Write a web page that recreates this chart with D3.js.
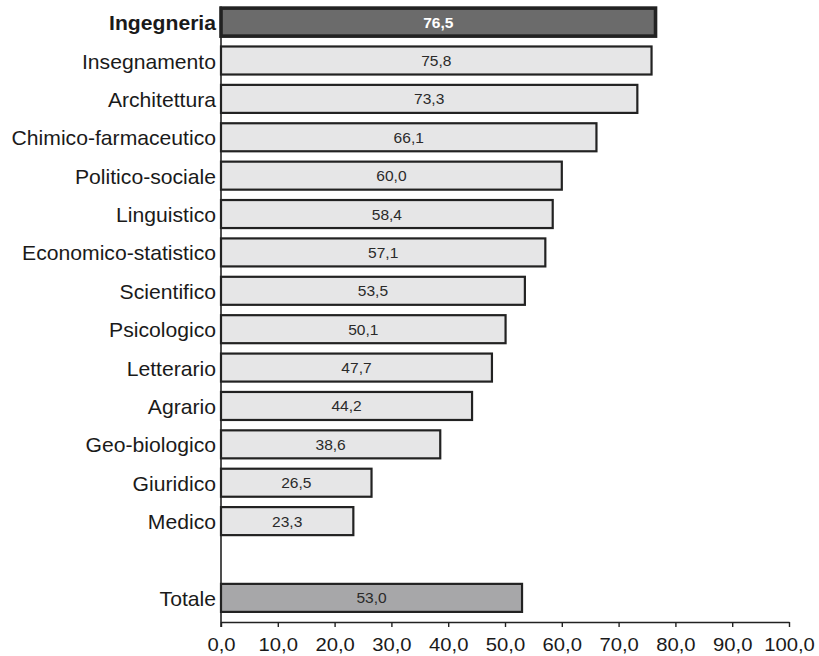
<!DOCTYPE html>
<html>
<head>
<meta charset="utf-8">
<script src="https://cdn.jsdelivr.net/npm/d3@7"></script>
<style>
  html, body { margin: 0; padding: 0; background: #fff; }
  svg { display: block; font-family: "Liberation Sans", Arial, Helvetica, sans-serif; }
</style>
</head>
<body>
<svg id="chart" width="819" height="656"></svg>
<script>
// Share of graduates by discipline group (%)
const categories = [
  "Ingegneria", "Insegnamento", "Architettura", "Chimico-farmaceutico",
  "Politico-sociale", "Linguistico", "Economico-statistico", "Scientifico",
  "Psicologico", "Letterario", "Agrario", "Geo-biologico", "Giuridico", "Medico"
];
const values = [76.5, 75.8, 73.3, 66.1, 60.0, 58.4, 57.1, 53.5, 50.1, 47.7, 44.2, 38.6, 26.5, 23.3];
const highlighted = ["Ingegneria"];
const totalLabel = "Totale";
const totalValue = 53.0;
const xTicks = [0, 10, 20, 30, 40, 50, 60, 70, 80, 90, 100];

const svg = d3.select("#chart");
const itLocale = d3.formatLocale({ decimal: ",", thousands: ".", grouping: [3], currency: ["", " €"] });
const fmt = itLocale.format(".1f");

const x0 = 221, x1 = 789;
const axisY = 622;
const spacer = " ";
const rows = categories.map((c, i) => ({ name: c, value: values[i], kind: highlighted.includes(c) ? "hi" : "base" }));
rows.push({ name: totalLabel, value: totalValue, kind: "total" });

const x = d3.scaleLinear().domain([0, 100]).range([x0, x1]);
const y = d3.scaleBand()
  .domain([...categories, spacer, totalLabel])
  .range([3.5, 616.5])
  .paddingInner(0.27)
  .paddingOuter(0.12);

const fills = { hi: "#6b6b6b", base: "#e6e6e7", total: "#a7a7a9" };
const strokeW = { hi: 3.6, base: 2.2, total: 2.2 };

// Vertical category axis line
svg.append("line")
  .attr("x1", x0).attr("x2", x0)
  .attr("y1", y.range()[0] + 3).attr("y2", axisY + 5)
  .attr("stroke", "#222").attr("stroke-width", 1.6);

// Bars
const g = svg.append("g");
g.selectAll("rect").data(rows).join("rect")
  .attr("x", x(0))
  .attr("y", d => y(d.name))
  .attr("width", d => x(d.value) - x(0))
  .attr("height", y.bandwidth())
  .attr("fill", d => fills[d.kind])
  .attr("stroke", "#222")
  .attr("stroke-width", d => strokeW[d.kind]);

// Value labels inside the bars
g.selectAll("text.val").data(rows).join("text")
  .attr("class", "val")
  .attr("transform", d => `translate(${(x(0) + x(d.value)) / 2},${y(d.name) + y.bandwidth() / 2 + 5.5}) scale(1.08,1)`)
  .attr("text-anchor", "middle")
  .attr("font-size", 14.4)
  .attr("font-weight", d => d.kind === "hi" ? "bold" : "normal")
  .attr("fill", d => d.kind === "hi" ? "#fff" : "#2a2a2a")
  .text(d => fmt(d.value));

// Category labels
g.selectAll("text.cat").data(rows).join("text")
  .attr("class", "cat")
  .attr("transform", d => `translate(${x0 - 5},${y(d.name) + y.bandwidth() / 2 + 8}) scale(1.08,1)`)
  .attr("text-anchor", "end")
  .attr("font-size", 19.6)
  .attr("font-weight", d => d.kind === "hi" ? "bold" : "normal")
  .attr("fill", "#1a1a1a")
  .text(d => d.name);

// Value axis
const xAxis = d3.axisBottom(x).tickValues(xTicks).tickFormat(fmt).tickSize(5).tickSizeOuter(0);
const ax = svg.append("g").attr("transform", `translate(0,${axisY})`).call(xAxis);
ax.select(".domain").attr("stroke", "#222").attr("stroke-width", 1.6);
ax.selectAll(".tick line").attr("stroke", "#222").attr("stroke-width", 1.4);
ax.selectAll(".tick text")
  .attr("font-size", 18.4)
  .attr("font-family", "'Liberation Sans', Arial, sans-serif")
  .attr("fill", "#1a1a1a")
  .attr("y", 0).attr("dy", 0)
  .attr("transform", `translate(0,29) scale(1.1,1)`);
</script>
</body>
</html>
